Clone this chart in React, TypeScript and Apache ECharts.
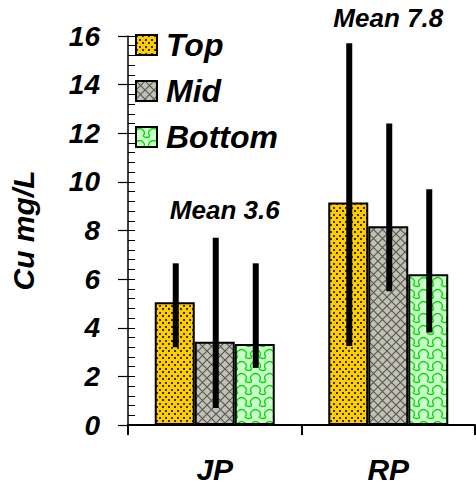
import React, { useEffect, useRef } from "react";
import * as echarts from "echarts";

const categories = ["JP", "RP"];
const seriesNames = ["Top", "Mid", "Bottom"];
const topValues = [5.05, 9.15];
const midValues = [3.42, 8.17];
const bottomValues = [3.33, 6.2];
const topErr = [[3.2, 6.65], [3.25, 15.7]];
const midErr = [[0.7, 7.7], [5.5, 12.4]];
const bottomErr = [[2.35, 6.65], [3.8, 9.7]];
const meanLabels = ["Mean 3.6", "Mean 7.8"];
const meanLabelY = [8.85, 16.75];

const FONT = "'Liberation Sans', Arial, sans-serif";

function makeTile(w: number, h: number, draw: (ctx: CanvasRenderingContext2D) => void) {
  const c = document.createElement("canvas");
  c.width = w;
  c.height = h;
  const ctx = c.getContext("2d") as CanvasRenderingContext2D;
  draw(ctx);
  return { image: c, repeat: "repeat", imageWidth: w, imageHeight: h } as any;
}

export default function App() {
  const ref = useRef<HTMLDivElement>(null);
  useEffect(() => {
    if (!ref.current) return;
    const chart = echarts.init(ref.current, null, { renderer: "svg" });

    const topFill = makeTile(6, 7, (ctx) => {
      ctx.fillStyle = "#FFCC00";
      ctx.fillRect(0, 0, 6, 7);
      ctx.fillStyle = "#3a3300";
      ctx.fillRect(0, 0, 2, 2);
      ctx.fillRect(3, 4, 2, 2);
    });
    const midFill = makeTile(9, 9, (ctx) => {
      ctx.fillStyle = "#C0C0C0";
      ctx.fillRect(0, 0, 9, 9);
      ctx.strokeStyle = "#5c5c3c";
      ctx.lineWidth = 1.2;
      ctx.beginPath();
      ctx.moveTo(0, 0);
      ctx.lineTo(9, 9);
      ctx.moveTo(9, 0);
      ctx.lineTo(0, 9);
      ctx.stroke();
    });
    const bottomFill = makeTile(14, 12, (ctx) => {
      ctx.fillStyle = "#CCFFCC";
      ctx.fillRect(0, 0, 14, 12);
      ctx.strokeStyle = "#00DD00";
      ctx.lineWidth = 1.3;
      ctx.beginPath();
      ctx.moveTo(0, 3);
      ctx.quadraticCurveTo(4, 0, 7, 3);
      ctx.quadraticCurveTo(10, 6, 7, 9);
      ctx.moveTo(7, 9);
      ctx.quadraticCurveTo(11, 12, 14, 9);
      ctx.moveTo(0, 9);
      ctx.quadraticCurveTo(-3, 6, 0, 3);
      ctx.moveTo(14, 9);
      ctx.quadraticCurveTo(11, 6, 14, 3);
      ctx.stroke();
    });
    const fills = [topFill, midFill, bottomFill];
    const values = [topValues, midValues, bottomValues];
    const errs = [topErr, midErr, bottomErr];
    const barW = 40;

    const barSeries = seriesNames.map((name, k) => ({
      name,
      type: "bar",
      data: values[k],
      barWidth: barW,
      barGap: "0%",
      itemStyle: { color: fills[k], borderColor: "#000", borderWidth: 2 },
      z: 2,
    }));

    const errSeries = seriesNames.map((name, k) => ({
      name: name + " err",
      type: "custom",
      data: errs[k].map((e, i) => [i, e[0], e[1]]),
      encode: { x: 0, y: [1, 2] },
      z: 5,
      renderItem: (params: any, api: any) => {
        const idx = api.value(0);
        const x = api.coord([idx, 0])[0] + (k - 1) * barW + 1;
        const top = api.coord([idx, api.value(2)])[1];
        const bot = api.coord([idx, api.value(1)])[1];
        return {
          type: "rect",
          shape: { x: x - 3, y: top, width: 6, height: bot - top },
          style: { fill: "#000" },
        };
      },
    }));

    const meanSeries = {
      name: "mean",
      type: "scatter",
      symbolSize: 0,
      clip: false,
      z: 6,
      itemStyle: { opacity: 1, color: "#000" },
      data: meanLabels.map((t, i) => ({
        value: [categories[i], meanLabelY[i]],
        label: {
          show: true,
          position: "inside",
          formatter: t,
          offset: i === 0 ? [10, 0] : [0, 0],
          color: "#000",
          opacity: 1,
          fontFamily: FONT,
          fontWeight: "bold",
          fontStyle: "italic",
          fontSize: 26,
        },
      })),
    };

    chart.setOption({
      animation: false,
      backgroundColor: "#fff",
      grid: { left: 123, top: 36, right: 1, bottom: 64 },
      legend: {
        data: seriesNames,
        orient: "vertical",
        left: 135,
        top: 29,
        padding: 0,
        itemWidth: 21,
        itemHeight: 20,
        itemGap: 14,
        icon: "rect",
        selectedMode: false,
        textStyle: {
          fontFamily: FONT,
          fontWeight: "bold",
          fontStyle: "italic",
          fontSize: 32,
          color: "#000",
          padding: [0, 0, 0, 4],
        },
      },
      xAxis: {
        type: "category",
        data: categories,
        boundaryGap: true,
        axisLine: { lineStyle: { color: "#000", width: 2 } },
        axisTick: { show: true, length: 10, lineStyle: { color: "#000", width: 2 } },
        axisLabel: {
          margin: 29,
          color: "#000",
          fontFamily: FONT,
          fontWeight: "bold",
          fontStyle: "italic",
          fontSize: 30,
        },
      },
      yAxis: [
        {
          type: "value",
          min: 0,
          max: 16,
          interval: 2,
          name: "Cu mg/L",
          nameLocation: "middle",
          nameGap: 90,
          nameTextStyle: {
            color: "#000",
            fontFamily: FONT,
            fontWeight: "bold",
            fontStyle: "italic",
            fontSize: 30,
          },
          axisLine: { show: true, lineStyle: { color: "#000", width: 1.5 } },
          axisTick: { show: true, length: 10, lineStyle: { color: "#000", width: 1.2 } },
          splitLine: { show: false },
          axisLabel: {
            margin: 28,
            color: "#000",
            fontFamily: FONT,
            fontWeight: "bold",
            fontStyle: "italic",
            fontSize: 28,
          },
        },
        {
          type: "value",
          min: 0,
          max: 16,
          interval: 0.4,
          position: "left",
          axisLine: { show: false },
          axisTick: { show: true, inside: true, length: 7, lineStyle: { color: "#000", width: 1 } },
          axisLabel: { show: false },
          splitLine: { show: false },
        },
      ],
      series: [...barSeries, ...errSeries, meanSeries],
    });
    return () => chart.dispose();
  }, []);
  return (
    <div
      ref={ref}
      style={{ position: "absolute", left: 0, top: 0, width: 476, height: 489, background: "#fff" }}
    />
  );
}
